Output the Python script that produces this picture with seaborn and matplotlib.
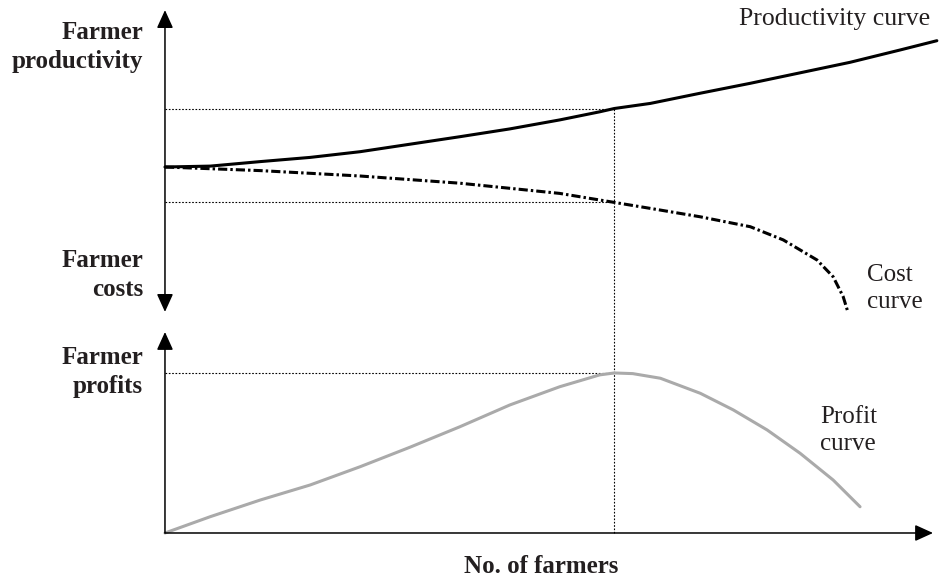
import numpy as np
import matplotlib.pyplot as plt
import seaborn as sns

# curve values (x = no. of farmers, 0..100)
farmers_prod = [0, 5.9, 12.4, 18.9, 25.4, 31.9, 38.4, 44.9, 51.4, 56.6, 58.5,
                63.2, 69.7, 76.2, 82.7, 89.2, 95.7, 100.5]
productivity = [0, 0.3, 1.8, 3.2, 5.1, 7.6, 10.1, 12.7, 15.7, 18.4, 19.5,
                21.2, 24.6, 27.9, 31.4, 34.9, 39, 42.1]

farmers_cost = [0, 12.4, 25.4, 38.4, 51.4, 58.5, 63.2, 69.7, 76.2, 80.5, 84.9,
                87, 88.3, 88.9]
cost = [0, -1.2, -3, -5.4, -8.8, -11.8, -13.8, -16.6, -19.9, -24.3, -31,
        -36.6, -43.2, -48.2]

farmers_profit = [0, 5.9, 12.4, 18.9, 25.4, 31.9, 38.4, 44.9, 51.4, 56.6, 58.5,
                  60.9, 64.5, 69.7, 74, 78.4, 82.7, 87, 90.5]
profit = [0, 10.2, 20.6, 30, 41.4, 53.6, 66.4, 80, 91.4, 98.8, 100,
          99.6, 96.7, 87.3, 76.9, 64.4, 49.8, 33.1, 16.4]

sns.set_theme(style="white")
plt.rcParams["font.family"] = ["Liberation Serif", "DejaVu Serif"]
txt = "#231f20"

fig = plt.figure(figsize=(9.41, 5.79), dpi=100)
ax_top = fig.add_axes([0, 259 / 579, 1, 320 / 579])
ax_bot = fig.add_axes([0, 0, 1, 259 / 579])
for ax in (ax_top, ax_bot):
    ax.set_xlim(-21.48, 101.04)
    ax.axis("off")
ax_top.set_ylim(-51, 55.67)
ax_bot.set_ylim(-28.75, 133.1)

arrow = dict(color="black", lw=1.1, shrinkA=0, shrinkB=0, mutation_scale=20)
head = ",head_length=0.55,head_width=0.25"

# axes with arrow heads
ax_top.annotate("", xy=(0, 52.3), xytext=(0, -48.3),
                arrowprops=dict(arrowstyle="<|-|>" + head, **arrow))
ax_bot.annotate("", xy=(0, 125.6), xytext=(0, 0),
                arrowprops=dict(arrowstyle="-|>" + head, **arrow))
ax_bot.annotate("", xy=(100, 0), xytext=(0, 0),
                arrowprops=dict(arrowstyle="-|>" + head, **arrow))

# guide lines at the profit peak
i_peak = int(np.argmax(profit))
x_peak = farmers_profit[i_peak]
prod_peak = productivity[farmers_prod.index(x_peak)]
cost_peak = cost[farmers_cost.index(x_peak)]
dot = dict(color="black", lw=0.8, ls=(0, (1.5, 1.5)))
ax_top.plot([0, x_peak], [prod_peak, prod_peak], **dot)
ax_top.plot([0, x_peak], [cost_peak, cost_peak], **dot)
ax_top.plot([x_peak, x_peak], [prod_peak, -51], clip_on=False, **dot)
ax_bot.plot([0, x_peak], [profit[i_peak], profit[i_peak]], **dot)
ax_bot.plot([x_peak, x_peak], [0, 133.1], clip_on=False, **dot)

# curves
sns.lineplot(x=farmers_prod, y=productivity, ax=ax_top, color="black", linewidth=2.2)
sns.lineplot(x=farmers_cost, y=cost, ax=ax_top, color="black", linewidth=2.2,
             linestyle=(0, (3, 1, 0.8, 1)))
sns.lineplot(x=farmers_profit, y=profit, ax=ax_bot, color="#aaaaaa", linewidth=2.2)

# labels
ax_top.text(-2.86, 40, "Farmer\nproductivity", ha="right", va="center", fontsize=18,
            fontweight="bold", color=txt, linespacing=1.3)
ax_top.text(-2.86, -36, "Farmer\ncosts", ha="right", va="center", fontsize=18,
            fontweight="bold", color=txt, linespacing=1.3)
ax_bot.text(-2.86, 100.6, "Farmer\nprofits", ha="right", va="center", fontsize=18,
            fontweight="bold", color=txt, linespacing=1.3)
ax_bot.text(49, -21, "No. of farmers", ha="center", va="center", fontsize=18,
            fontweight="bold", color=txt)

ax_top.text(87.2, 49.3, "Productivity curve", ha="center", va="center", fontsize=18.5,
            color=txt)
ax_top.text(91.4, -40.5, "Cost\ncurve", ha="left", va="center", fontsize=18, color=txt,
            linespacing=1.3)
ax_bot.text(85.3, 64, "Profit\ncurve", ha="left", va="center", fontsize=18, color=txt,
            linespacing=1.3)

fig.savefig("out.png", dpi=100)
